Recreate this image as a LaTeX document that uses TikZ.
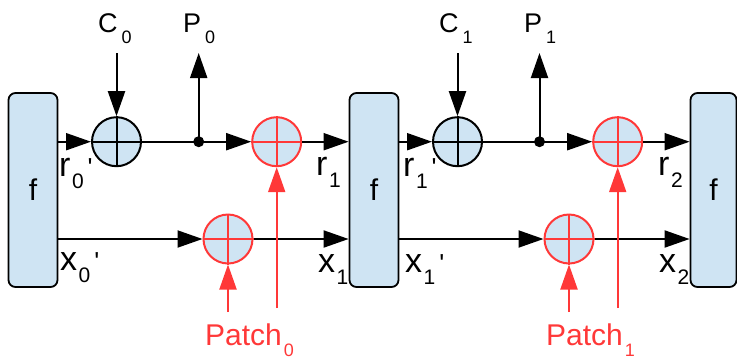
\documentclass[tikz,border=0pt]{standalone}
\usepackage{fontspec}
\setmainfont{Liberation Sans}[Ligatures=TeXOff]
\usetikzlibrary{arrows.meta}
\definecolor{boxblue}{RGB}{207,228,243}
\definecolor{pred}{RGB}{255,56,56}
\newcommand\fsz[1]{\fontsize{#1}{#1}\selectfont}
\newcommand\lblCP[2]{{\fsz{27}#1}\kern4pt\raisebox{-11pt}{\fsz{18}#2}}
\newcommand\lblRX[3]{{\fsz{34}#1}\kern1.5pt\raisebox{-12pt}{\fsz{21}#2}\kern4pt{\fsz{26}#3}}
\newcommand\lblPatch[1]{{\fsz{30}Patch}\kern2pt\raisebox{-11.5pt}{\fsz{18}#1}}
\begin{document}
\begin{tikzpicture}[x=1pt,y=-1pt,
  fbox/.style={draw=black, fill=boxblue, line width=1.8pt, rounded corners=7pt,
    minimum width=49pt, minimum height=194pt, inner sep=0pt, font=\fsz{30}},
  sumblack/.style={circle, draw=black, fill=boxblue, line width=2pt, minimum size=49pt, inner sep=0pt},
  sumred/.style={circle, draw=pred, fill=boxblue, line width=2pt, minimum size=49pt, inner sep=0pt},
  dot/.style={circle, fill=black, inner sep=0pt, minimum size=11pt},
  conn/.style={line width=2pt, draw=black},
  arr/.style={conn, -{Triangle[length=25pt,width=17pt]}},
  redarr/.style={line width=2pt, draw=pred, -{Triangle[length=25pt,width=17pt]}},
  lbl/.style={anchor=base west, inner sep=0pt, text=black},
  redlbl/.style={anchor=base west, inner sep=0pt, text=pred}]
\useasboundingbox (0,0) rectangle (737,360);

% boxes
\node[fbox] (f0) at (33,190) {f};
\node[fbox] (f1) at (374,190) {f};
\node[fbox, minimum width=46pt] (f2) at (713.5,190) {f};

% stage 0
\node[sumblack] (c0) at (116.5,141.7) {};
\node[sumred] (rt0) at (276.7,141.7) {};
\node[sumred] (rb0) at (228,239) {};
\node[dot] (d0) at (198.7,141.7) {};
\coordinate (ct0) at (116.5,53);
\coordinate (pt0) at (198.7,53);
\coordinate (pa0) at (276.7,308);
\coordinate (pb0) at (228,312);

% stage 1
\node[sumblack] (c1) at (457.5,141.7) {};
\node[sumred] (rt1) at (617.7,141.7) {};
\node[sumred] (rb1) at (569,239) {};
\node[dot] (d1) at (539.5,141.7) {};
\coordinate (ct1) at (457.5,53);
\coordinate (pt1) at (539.5,53);
\coordinate (pa1) at (617.7,308);
\coordinate (pb1) at (569,312);

% crosses
\foreach \n in {c0,c1}{
  \draw[line width=2pt, black] (\n.north) -- (\n.south) (\n.west) -- (\n.east);}
\foreach \n in {rt0,rb0,rt1,rb1}{
  \draw[line width=2pt, pred] (\n.north) -- (\n.south) (\n.west) -- (\n.east);}

% connectors stage 0
\draw[arr] (f0.east |- c0.west) -- (c0.west);
\draw[arr] (ct0) -- (c0.north);
\draw[conn] (c0.east) -- (d0.center);
\draw[arr] (d0.center) -- (pt0);
\draw[arr] (d0.center) -- (rt0.west);
\draw[arr] (rt0.east) -- (f1.west |- rt0.east);
\draw[arr] (f0.east |- rb0.west) -- (rb0.west);
\draw[arr] (rb0.east) -- (f1.west |- rb0.east);
\draw[redarr] (pa0) -- (rt0.south);
\draw[redarr] (pb0) -- (rb0.south);

% connectors stage 1
\draw[arr] (f1.east |- c1.west) -- (c1.west);
\draw[arr] (ct1) -- (c1.north);
\draw[conn] (c1.east) -- (d1.center);
\draw[arr] (d1.center) -- (pt1);
\draw[arr] (d1.center) -- (rt1.west);
\draw[arr] (rt1.east) -- (f2.west |- rt1.east);
\draw[arr] (f1.east |- rb1.west) -- (rb1.west);
\draw[arr] (rb1.east) -- (f2.west |- rb1.east);
\draw[redarr] (pa1) -- (rt1.south);
\draw[redarr] (pb1) -- (rb1.south);

% labels
\node[lbl] (lc0) at (98,32) {\lblCP{C}{0}};
\node[lbl] (lp0) at (183,32) {\lblCP{P}{0}};
\node[lbl] (lc1) at (439,32) {\lblCP{C}{1}};
\node[lbl] (lp1) at (524,32) {\lblCP{P}{1}};
\node[lbl] (lr0) at (59,176) {\lblRX{r}{0}{'}};
\node[lbl] (lr1) at (316,175) {\lblRX{r}{1}{}};
\node[lbl] (lr1p) at (403,176) {\lblRX{r}{1}{'}};
\node[lbl] (lr2) at (658,175) {\lblRX{r}{2}{}};
\node[lbl] (lx0) at (60,270) {\lblRX{x}{0}{'}};
\node[lbl] (lx1) at (318,272) {\lblRX{x}{1}{}};
\node[lbl] (lx1p) at (405,272) {\lblRX{x}{1}{'}};
\node[lbl] (lx2) at (659,272) {\lblRX{x}{2}{}};
\node[redlbl] (lpa0) at (205,345) {\lblPatch{0}};
\node[redlbl] (lpa1) at (546,345) {\lblPatch{1}};
\end{tikzpicture}
\end{document}
